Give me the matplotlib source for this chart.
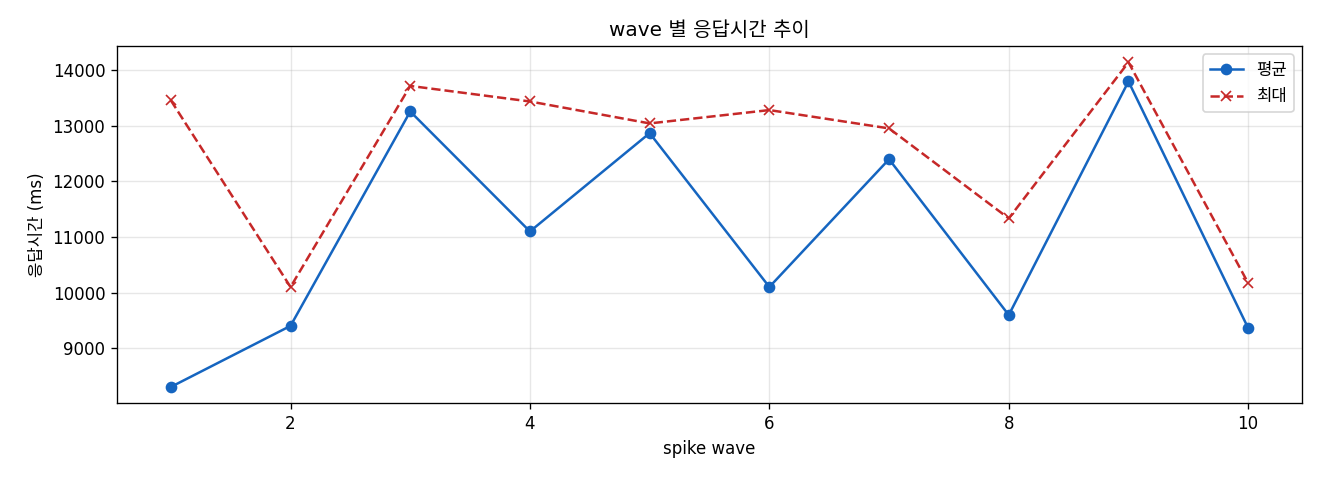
import matplotlib
matplotlib.use("Agg")
import matplotlib.pyplot as plt

plt.rcParams["font.family"] = ["DejaVu Sans", "Noto Sans CJK KR"]

waves = [1, 2, 3, 4, 5, 6, 7, 8, 9, 10]
avg_ms = [8300, 9400, 13260, 11100, 12870, 10100, 12400, 9595, 13800, 9360]
max_ms = [13460, 10100, 13720, 13440, 13045, 13285, 12955, 11335, 14145, 10170]

fig, ax = plt.subplots(figsize=(11, 4), dpi=120)
ax.plot(waves, avg_ms, marker="o", color="#1565C0", label="평균")
ax.plot(waves, max_ms, marker="x", linestyle="--", color="#C62828", label="최대")
ax.set_title("wave 별 응답시간 추이")
ax.set_xlabel("spike wave")
ax.set_ylabel("응답시간 (ms)")
ax.grid(True, alpha=0.3)
ax.legend(loc="upper right")
fig.subplots_adjust(left=0.0886, right=0.9864, top=0.904, bottom=0.160)
fig.savefig("out.png", dpi=120)
